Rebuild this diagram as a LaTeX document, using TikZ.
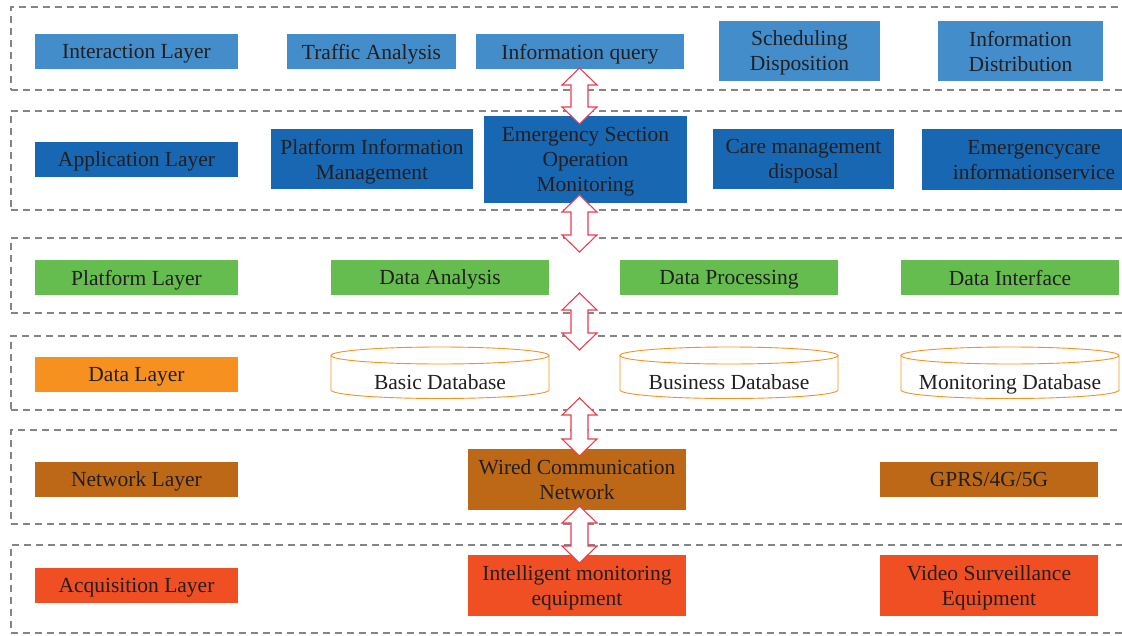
\documentclass[tikz,border=0pt]{standalone}
\usepackage{fontspec}
\setmainfont{Liberation Serif}
\usetikzlibrary{calc}
\definecolor{cI}{HTML}{438DCB}
\definecolor{cA}{HTML}{1867B2}
\definecolor{cP}{HTML}{66BD4F}
\definecolor{cD}{HTML}{F6911F}
\definecolor{cN}{HTML}{BD6817}
\definecolor{cQ}{HTML}{F04E23}
\definecolor{txt}{HTML}{231F20}
\definecolor{frm}{HTML}{858585}
\definecolor{arr}{HTML}{EE3B4D}
\newcommand\dblarrow[2]{%
  \draw[blockarrow] let \p1=(#1), \p2=(#2) in
    (\x1,\y1) -- (\x1+17.5pt,\y1-17pt) -- (\x1+8.5pt,\y1-17pt) -- (\x1+8.5pt,\y2+17pt)
    -- (\x1+17.5pt,\y2+17pt) -- (\x1,\y2) -- (\x1-17.5pt,\y2+17pt) -- (\x1-8.5pt,\y2+17pt)
    -- (\x1-8.5pt,\y1-17pt) -- (\x1-17.5pt,\y1-17pt) -- cycle;}
\newcommand\dbcyl[4]{% name, x1, x2, text
  \node[cyltext] (#1) at ({(#2+#3)/2},382) {#4};
  \draw[cylline] ({(#2+#3)/2},355.5) ellipse[x radius={(#3-#2)/2}, y radius=8.5];
  \draw[cylline] (#2,355.5) -- (#2,390) arc[start angle=180, end angle=0, x radius={(#3-#2)/2}, y radius=8.5] -- (#3,355.5);}
\begin{document}
\begin{tikzpicture}[x=1pt,y=-1pt,
  box/.style={rectangle, inner sep=0pt, align=center, text=txt, text depth=0pt,
    font=\fontsize{21.5}{25}\selectfont},
  frame/.style={draw=frm, line width=1.6pt, dash pattern=on 7pt off 5pt},
  blockarrow/.style={draw=arr, fill=white, line width=1.1pt, line join=miter},
  cylline/.style={draw=cD, line width=0.9pt},
  cyltext/.style={box}]
\useasboundingbox (0,0) rectangle (1122,635);
\clip (0,0) rectangle (1122,635);
% layer frames
\node[frame, rectangle, minimum width=1130pt, minimum height=83pt, anchor=north west] (f1) at (10,6) {};
\node[frame, rectangle, minimum width=1130pt, minimum height=99pt, anchor=north west] (f2) at (10,110) {};
\node[frame, rectangle, minimum width=1130pt, minimum height=75pt, anchor=north west] (f3) at (10,237) {};
\node[frame, rectangle, minimum width=1130pt, minimum height=74pt, anchor=north west] (f4) at (10,335) {};
\node[frame, rectangle, minimum width=1130pt, minimum height=94pt, anchor=north west] (f5) at (10,429) {};
\node[frame, rectangle, minimum width=1130pt, minimum height=88pt, anchor=north west] (f6) at (10,544) {};
% interaction layer
\node[box, fill=cI, minimum width=203pt, minimum height=35pt] (il) at (136.5,51.5) {Interaction Layer};
\node[box, fill=cI, minimum width=169pt, minimum height=35pt] (ta) at (371.5,51.5) {Traffic Analysis};
\node[box, fill=cI, minimum width=208pt, minimum height=35pt] (iq) at (580,51.5) {Information query};
\node[box, fill=cI, minimum width=161pt, minimum height=60pt] (sd) at (799.5,51) {Scheduling\\Disposition};
\node[box, fill=cI, minimum width=165pt, minimum height=60pt] (id) at (1020.5,51) {Information\\Distribution};
% application layer
\node[box, fill=cA, minimum width=203pt, minimum height=35pt] (al) at (136.5,159.5) {Application Layer};
\node[box, fill=cA, minimum width=202pt, minimum height=60pt] (pim) at (372,159) {Platform Information\\Management};
\node[box, fill=cA, minimum width=203pt, minimum height=87pt] (esom) at (585.5,159.5) {Emergency Section\\Operation\\Monitoring};
\node[box, fill=cA, minimum width=181pt, minimum height=60pt] (cmd) at (803.5,159) {Care management\\disposal};
\node[box, fill=cA, minimum width=224pt, minimum height=61pt] (eis) at (1034,159.5) {Emergencycare\\informationservice};
% platform layer
\node[box, fill=cP, minimum width=203pt, minimum height=35pt] (pl) at (136.5,277.5) {Platform Layer};
\node[box, fill=cP, minimum width=218pt, minimum height=35pt] (da) at (440,277.5) {Data Analysis};
\node[box, fill=cP, minimum width=218pt, minimum height=35pt] (dp) at (729,277.5) {Data Processing};
\node[box, fill=cP, minimum width=218pt, minimum height=35pt] (di) at (1010,277.5) {Data Interface};
% data layer
\node[box, fill=cD, minimum width=203pt, minimum height=35pt] (dl) at (136.5,374.5) {Data Layer};
\dbcyl{bdb}{331}{549}{Basic Database}
\dbcyl{budb}{620}{838}{Business Database}
\dbcyl{mdb}{901}{1119}{Monitoring Database}
% network layer
\node[box, fill=cN, minimum width=203pt, minimum height=35pt] (nl) at (136.5,479.5) {Network Layer};
\node[box, fill=cN, minimum width=218pt, minimum height=61pt] (wcn) at (577,479.5) {Wired Communication\\Network};
\node[box, fill=cN, minimum width=218pt, minimum height=35pt] (gprs) at (989,479.5) {GPRS/4G/5G};
% acquisition layer
\node[box, fill=cQ, minimum width=203pt, minimum height=35pt] (aql) at (136.5,585.5) {Acquisition Layer};
\node[box, fill=cQ, minimum width=218pt, minimum height=61pt] (ime) at (577,585.5) {Intelligent monitoring\\equipment};
\node[box, fill=cQ, minimum width=218pt, minimum height=61pt] (vse) at (989,585.5) {Video Surveillance\\Equipment};
% block arrows between layers
\coordinate (a1t) at (579.5,68);  \coordinate (a1b) at (579.5,124);
\coordinate (a2t) at (579.5,195); \coordinate (a2b) at (579.5,252);
\coordinate (a3t) at (579.5,293); \coordinate (a3b) at (579.5,350);
\coordinate (a4t) at (579.5,398); \coordinate (a4b) at (579.5,456);
\coordinate (a5t) at (579.5,506); \coordinate (a5b) at (579.5,563);
\dblarrow{a1t}{a1b}
\dblarrow{a2t}{a2b}
\dblarrow{a3t}{a3b}
\dblarrow{a4t}{a4b}
\dblarrow{a5t}{a5b}
\end{tikzpicture}
\end{document}
